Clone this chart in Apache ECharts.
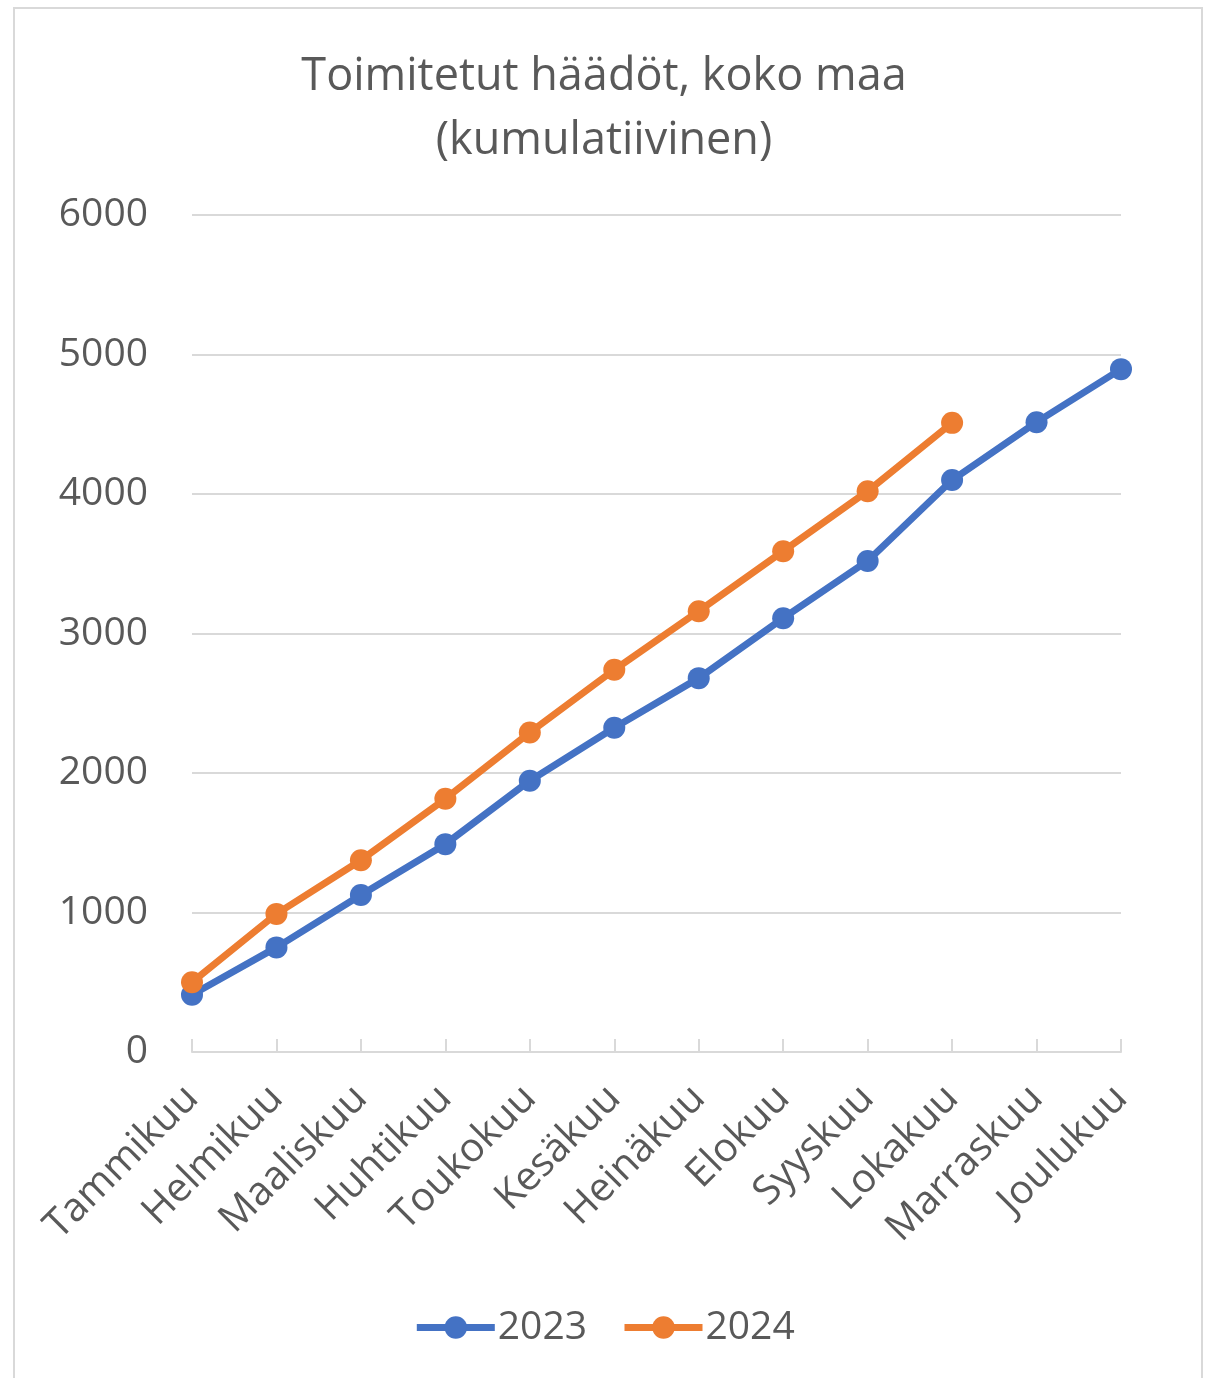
<!DOCTYPE html>
<html>
<head>
<meta charset="utf-8">
<script src="https://cdn.jsdelivr.net/npm/echarts@6/dist/echarts.min.js"></script>
<style>
  html, body { margin: 0; padding: 0; background: #fff; }
  #chart { width: 1208px; height: 1378px; }
  #frame { position: absolute; left: 13px; top: 7px; width: 1190px; height: 1380px; border: 2px solid #d9d9d9; box-sizing: border-box; pointer-events: none; }
</style>
</head>
<body>
<div id="chart"></div>
<div id="frame"></div>
<script>
const months = ["Tammikuu", "Helmikuu", "Maaliskuu", "Huhtikuu", "Toukokuu", "Kesäkuu",
  "Heinäkuu", "Elokuu", "Syyskuu", "Lokakuu", "Marraskuu", "Joulukuu"];
const y2023 = [410, 750, 1125, 1490, 1945, 2325, 2680, 3110, 3520, 4100, 4515, 4895];
const y2024 = [500, 990, 1375, 1815, 2290, 2740, 3160, 3590, 4020, 4510];

const FONT = "'Open Sans', sans-serif";
const TXT = "#595959";

const chart = echarts.init(document.getElementById("chart"));

chart.setOption({
  backgroundColor: "#ffffff",
  animation: false,
  title: {
    text: "Toimitetut häädöt, koko maa\n(kumulatiivinen)",
    left: "center",
    top: 40,
    textStyle: { color: TXT, fontSize: 45, fontWeight: "normal", fontFamily: FONT, lineHeight: 64, align: "center" }
  },
  legend: {
    bottom: 26,
    left: "center",
    itemWidth: 78,
    itemHeight: 28,
    itemGap: 34,
    lineStyle: { width: 7 },
    textStyle: { color: TXT, fontSize: 39, fontFamily: FONT, padding: [0, 0, 0, -2] },
    data: ["2023", "2024"]
  },
  grid: { left: 192, right: 87, top: 215, bottom: 326 },
  xAxis: {
    type: "category",
    data: months,
    boundaryGap: false,
    axisLine: { lineStyle: { color: "#d9d9d9", width: 2 } },
    axisTick: { inside: true, length: 13, alignWithLabel: true, lineStyle: { color: "#d9d9d9", width: 2 } },
    axisLabel: { rotate: 45, margin: 40, color: TXT, fontSize: 40, fontFamily: FONT, interval: 0 }
  },
  yAxis: {
    type: "value",
    min: 0,
    max: 6000,
    interval: 1000,
    axisLine: { show: false },
    axisTick: { show: false },
    splitLine: { lineStyle: { color: "#d9d9d9", width: 2 } },
    axisLabel: { margin: 44, color: TXT, fontSize: 39, fontFamily: FONT, formatter: (v) => String(v) }
  },
  series: [
    {
      name: "2023",
      type: "line",
      data: y2023,
      symbol: "circle",
      symbolSize: 22,
      lineStyle: { color: "#4472C4", width: 7 },
      itemStyle: { color: "#4472C4" }
    },
    {
      name: "2024",
      type: "line",
      data: y2024,
      symbol: "circle",
      symbolSize: 22,
      lineStyle: { color: "#ED7D31", width: 7 },
      itemStyle: { color: "#ED7D31" }
    }
  ]
});
</script>
</body>
</html>
